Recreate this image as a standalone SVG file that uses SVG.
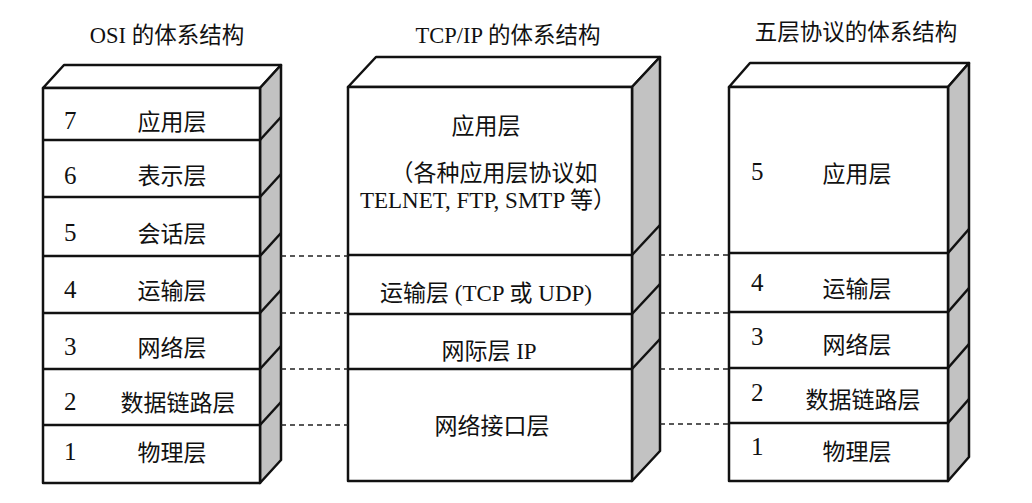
<svg xmlns="http://www.w3.org/2000/svg" width="1032" height="503" viewBox="0 0 1032 503">
<style>
.face{fill:#fff;stroke:#111;stroke-width:2.5;stroke-linejoin:round}
.side{fill:#c2c2c2;stroke:#111;stroke-width:2.5;stroke-linejoin:round}
.ln{stroke:#111;stroke-width:2.5;fill:none}
.dash{stroke:#222;stroke-width:1.5;stroke-dasharray:5 4;fill:none}
text{font-family:"Liberation Serif","Noto Sans CJK SC",serif;font-size:23px;fill:#111}
.t{font-size:22.5px;text-anchor:middle}
.m{text-anchor:middle}
.n{font-size:25px}
</style>
<g id="osi">
<text class="t" x="167" y="43">OSI 的体系结构</text>
<polygon class="face" points="43,88 64,65 281,65 260,88"/>
<polygon class="side" points="260,88 281,65 281,460 260,483"/>
<rect class="face" x="43" y="88" width="217" height="395"/>
<g class="ln">
<line x1="43" y1="140" x2="260" y2="140"/><line x1="260" y1="140" x2="281" y2="117"/>
<line x1="43" y1="197" x2="260" y2="197"/><line x1="260" y1="197" x2="281" y2="174"/>
<line x1="43" y1="256" x2="260" y2="256"/><line x1="260" y1="256" x2="281" y2="233"/>
<line x1="43" y1="313" x2="260" y2="313"/><line x1="260" y1="313" x2="281" y2="290"/>
<line x1="43" y1="369" x2="260" y2="369"/><line x1="260" y1="369" x2="281" y2="346"/>
<line x1="43" y1="425" x2="260" y2="425"/><line x1="260" y1="425" x2="281" y2="402"/>
</g>
<g id="osi-7"><text class="n" x="64" y="129">7</text><text class="m" x="172" y="130">应用层</text></g>
<g id="osi-6"><text class="n" x="64" y="184">6</text><text class="m" x="172" y="184">表示层</text></g>
<g id="osi-5"><text class="n" x="64" y="241">5</text><text class="m" x="172" y="242">会话层</text></g>
<g id="osi-4"><text class="n" x="64" y="298">4</text><text class="m" x="172" y="299">运输层</text></g>
<g id="osi-3"><text class="n" x="64" y="355">3</text><text class="m" x="172" y="356">网络层</text></g>
<g id="osi-2"><text class="n" x="64" y="410">2</text><text class="m" x="178" y="411">数据链路层</text></g>
<g id="osi-1"><text class="n" x="64" y="460">1</text><text class="m" x="172" y="461">物理层</text></g>
</g>
<g id="tcpip">
<text class="t" x="508" y="43">TCP/IP 的体系结构</text>
<polygon class="face" points="348,87 376,57 660,57 632,87"/>
<polygon class="side" points="632,87 660,57 660,451 632,481"/>
<rect class="face" x="348" y="87" width="284" height="394"/>
<g class="ln">
<line x1="348" y1="255" x2="632" y2="255"/><line x1="632" y1="255" x2="660" y2="225"/>
<line x1="348" y1="314" x2="632" y2="314"/><line x1="632" y1="314" x2="660" y2="284"/>
<line x1="348" y1="369" x2="632" y2="369"/><line x1="632" y1="369" x2="660" y2="339"/>
</g>
<g id="tcp-app"><text class="m" x="486" y="134">应用层</text><text class="m" x="494" y="181">（各种应用层协议如</text><text class="m" x="488" y="208">TELNET, FTP, SMTP 等）</text></g>
<g id="tcp-transport"><text class="m" x="486" y="301">运输层 (TCP 或 UDP)</text></g>
<g id="tcp-ip"><text class="m" x="489" y="359">网际层 IP</text></g>
<g id="tcp-link"><text class="m" x="492" y="434">网络接口层</text></g>
</g>
<g id="five">
<text class="t" x="856" y="40">五层协议的体系结构</text>
<polygon class="face" points="729,87 750,63 969,63 948,87"/>
<polygon class="side" points="948,87 969,63 969,457 948,481"/>
<rect class="face" x="729" y="87" width="219" height="394"/>
<g class="ln">
<line x1="729" y1="253" x2="948" y2="253"/><line x1="948" y1="253" x2="969" y2="229"/>
<line x1="729" y1="312" x2="948" y2="312"/><line x1="948" y1="312" x2="969" y2="288"/>
<line x1="729" y1="368" x2="948" y2="368"/><line x1="948" y1="368" x2="969" y2="344"/>
<line x1="729" y1="423" x2="948" y2="423"/><line x1="948" y1="423" x2="969" y2="399"/>
</g>
<g id="five-5"><text class="n" x="751" y="180">5</text><text class="m" x="857" y="182">应用层</text></g>
<g id="five-4"><text class="n" x="751" y="291">4</text><text class="m" x="857" y="297">运输层</text></g>
<g id="five-3"><text class="n" x="751" y="345">3</text><text class="m" x="857" y="353">网络层</text></g>
<g id="five-2"><text class="n" x="751" y="401">2</text><text class="m" x="863" y="408">数据链路层</text></g>
<g id="five-1"><text class="n" x="751" y="455">1</text><text class="m" x="857" y="460">物理层</text></g>
</g>
<g id="connectors">
<line class="dash" x1="281" y1="256" x2="348" y2="256"/>
<line class="dash" x1="281" y1="313" x2="348" y2="313"/>
<line class="dash" x1="281" y1="369" x2="348" y2="369"/>
<line class="dash" x1="281" y1="425" x2="348" y2="425"/>
<line class="dash" x1="660" y1="255" x2="729" y2="255"/>
<line class="dash" x1="660" y1="313" x2="729" y2="313"/>
<line class="dash" x1="660" y1="369" x2="729" y2="369"/>
<line class="dash" x1="660" y1="424" x2="729" y2="424"/>
</g>
</svg>
